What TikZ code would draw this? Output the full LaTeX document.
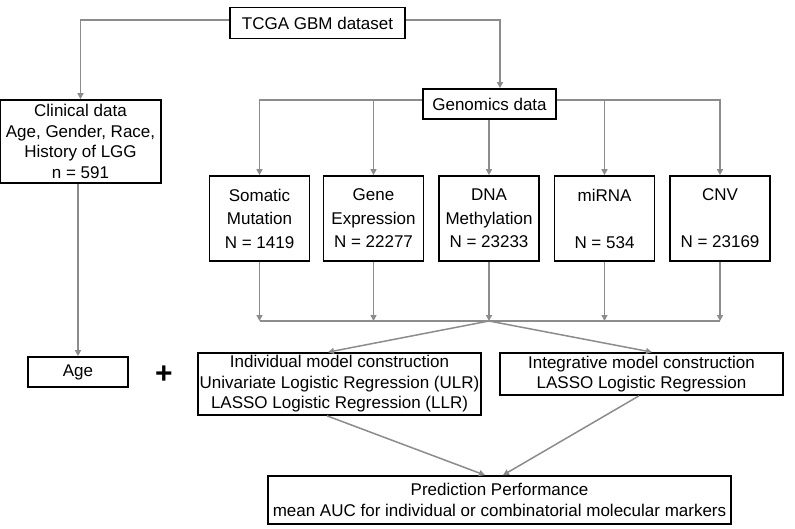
\documentclass[tikz,border=0pt]{standalone}
\usepackage{fontspec}
\setmainfont{Liberation Sans}
\usetikzlibrary{arrows.meta,calc}
\definecolor{lngray}{RGB}{140,140,140}
\tikzset{
  box/.style={draw=black, line width=1.7pt, fill=white, inner sep=0pt, align=center,
     font=\fontsize{17}{20.5}\selectfont},
  databox/.style={box, minimum width=100pt, minimum height=85pt,
     font=\fontsize{17}{23.5}\selectfont},
  conn/.style={draw=lngray, line width=1.5pt, -{Triangle[length=6pt,width=6pt]}},
  plain/.style={draw=lngray, line width=1.5pt}
}
\begin{document}
\begin{tikzpicture}[x=1pt,y=-1pt]
\useasboundingbox (0,0) rectangle (795,529);
% nodes
\node[box, minimum width=175pt, minimum height=31pt] (tcga) at (317.5,23) {TCGA GBM dataset};
\node[box, minimum width=161pt, minimum height=83pt] (clin) at (80.5,141.5) {Clinical data\\Age, Gender, Race,\\History of LGG\\n = 591};
\node[box, minimum width=133pt, minimum height=30pt] (geno) at (489.5,104) {Genomics data};
\node[databox] (som) at (259.5,218.5) {Somatic\\Mutation\\N = 1419};
\node[databox] (gene) at (373.5,218.5) {Gene\\Expression\\N = 22277};
\node[databox] (dna) at (489,218.5) {DNA\\Methylation\\N = 23233};
\node[databox] (mir) at (604.5,218.5) {miRNA\\\strut\\N = 534};
\node[databox] (cnv) at (720,218.5) {CNV\\\strut\\N = 23169};
\node[box, minimum width=100pt, minimum height=30pt] (age) at (78,372) {Age};
\node[font=\fontsize{30}{32}\selectfont\bfseries, inner sep=0pt] (plus) at (164,375) {+};
\node[box, minimum width=283pt, minimum height=62pt] (indiv) at (339.5,384) {Individual model construction\\Univariate Logistic Regression (ULR)\\LASSO Logistic Regression (LLR)};
\node[box, minimum width=283pt, minimum height=42pt] (integ) at (641.5,374) {Integrative model construction\\LASSO Logistic Regression};
\node[box, minimum width=463pt, minimum height=48pt] (pred) at (499.5,500) {Prediction Performance\\mean AUC for individual or combinatorial molecular markers};
\coordinate (merge) at (489,321);
% connectors from TCGA
\draw[conn] ([yshift=3pt]tcga.west) -| (clin.north);
\draw[conn] ([yshift=3pt]tcga.east) -| ([xshift=10.5pt]geno.north);
% clinical to age
\draw[conn] (clin.south -| age.north) -- (age.north);
% genomics to data
\draw[conn] ([yshift=4pt]geno.west) -| (som.north);
\draw[conn] ([yshift=4pt]geno.west) -| (gene.north);
\draw[conn] (geno.south -| dna.north) -- (dna.north);
\draw[conn] ([yshift=4pt]geno.east) -| (mir.north);
\draw[conn] ([yshift=4pt]geno.east) -| (cnv.north);
% data to merge
\draw[plain] (som.south |- merge) -- (cnv.south |- merge);
\foreach \n in {som,gene,dna,mir,cnv}{
  \draw[conn] (\n.south) -- (\n.south |- merge);
}
% merge to models
\draw[conn] (merge) -- ([xshift=-11.5pt]indiv.north);
\draw[conn] (merge) -- ([xshift=10.5pt]integ.north);
% models to prediction
\draw[conn] ([xshift=-12.5pt]indiv.south) -- ([xshift=-14.5pt]pred.north);
\draw[conn] ([xshift=-2.5pt]integ.south) -- ([xshift=3.5pt]pred.north);
\end{tikzpicture}
\end{document}
